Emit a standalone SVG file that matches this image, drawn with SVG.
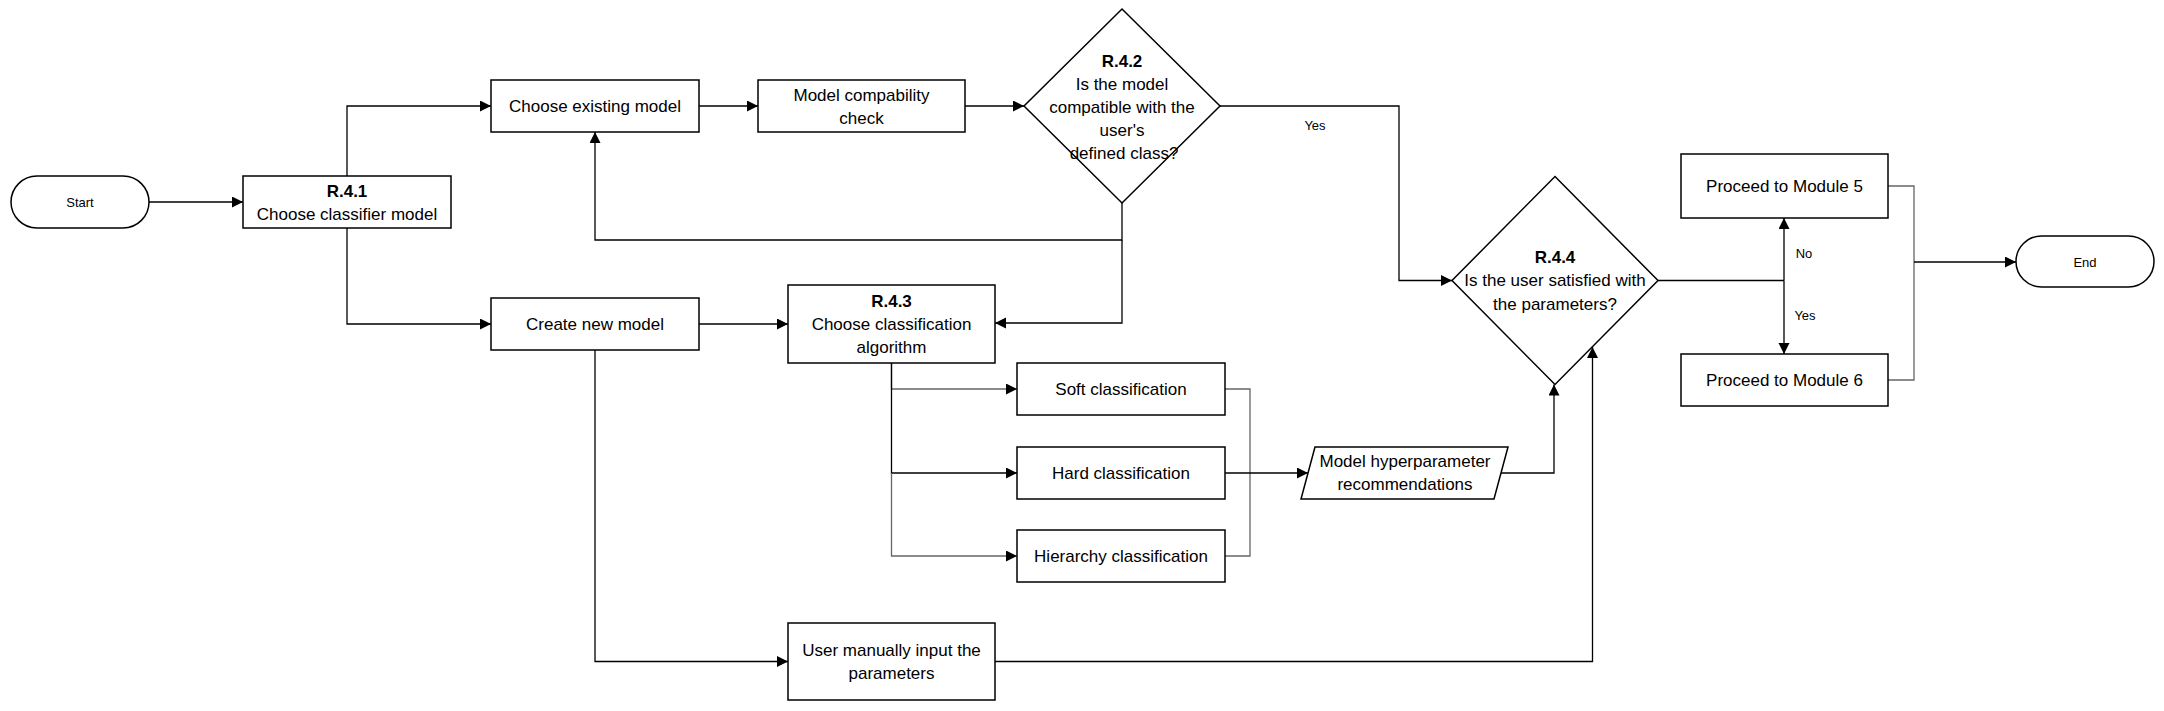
<svg xmlns="http://www.w3.org/2000/svg" width="2164" height="711" viewBox="0 0 2164 711">
<defs>
<marker id="ah" markerUnits="userSpaceOnUse" markerWidth="12" markerHeight="12" refX="11" refY="5.5" orient="auto">
<path d="M0,0 L11,5.5 L0,11 z" fill="#000"/>
</marker>
<marker id="ahs" markerUnits="userSpaceOnUse" markerWidth="12" markerHeight="12" refX="0" refY="5.5" orient="auto">
<path d="M11,0 L0,5.5 L11,11 z" fill="#000"/>
</marker>
<style>
.box{fill:#fff;stroke:#000;stroke-width:1.5}
.t{font-family:"Liberation Sans",Arial,sans-serif;font-size:17px;fill:#000;text-anchor:middle}
.b{font-weight:bold}
.s{font-family:"Liberation Sans",Arial,sans-serif;font-size:13px;fill:#000;text-anchor:middle}
.c{fill:none;stroke:#000;stroke-width:1.3}
.g{fill:none;stroke:#666;stroke-width:1.3}
.a{marker-end:url(#ah)}
</style>
</defs>
<rect width="2164" height="711" fill="#fff"/>
<g id="connectors">
<path class="c a" d="M149,202 H243"/>
<path class="c a" d="M347,176 V106 H491"/>
<path class="c a" d="M347,228 V324 H491"/>
<path class="c a" d="M699,106 H758"/>
<path class="c a" d="M965,106 H1024"/>
<path class="c a" d="M1122,203 V240 H595 V132"/>
<path class="c a" d="M1122,240 V323 H995"/>
<path class="c a" d="M699,324 H788"/>
<path class="c a" d="M595,350 V661.5 H788"/>
<path class="g a" d="M891.5,363 V389 H1017"/>
<path class="c a" d="M891.5,363 V473 H1017"/>
<path class="g a" d="M891.5,473 V556 H1017"/>
<path class="g" d="M1225,389 H1250 V556 H1225"/>
<path class="c a" d="M1225,473 H1308"/>
<path class="c a" d="M1501,473 H1554 V384.5"/>
<path class="c a" d="M995,661.5 H1592.5 V347"/>
<path class="c a" d="M1220,106 H1399 V280.5 H1452"/>
<path class="c" d="M1658,280.5 H1784"/>
<path class="c a" d="M1784,280.5 V218"/>
<path class="c a" d="M1784,280.5 V354"/>
<path class="g" d="M1888,186 H1914 V380 H1888"/>
<path class="c a" d="M1914,262 H2016"/>
<text class="s" x="1315" y="130">Yes</text>
<text class="s" x="1804" y="258">No</text>
<text class="s" x="1805" y="320">Yes</text>
</g>
<g id="start">
<rect class="box" x="11" y="176" width="138" height="52" rx="26"/>
<text class="s" x="80" y="207">Start</text>
</g>
<g id="r41">
<rect class="box" x="243" y="176" width="208" height="52"/>
<text class="t b" x="347" y="196.5">R.4.1</text>
<text class="t" x="347" y="220">Choose classifier model</text>
</g>
<g id="choose-existing">
<rect class="box" x="491" y="80" width="208" height="52"/>
<text class="t" x="595" y="112">Choose existing model</text>
</g>
<g id="compat-check">
<rect class="box" x="758" y="80" width="207" height="52"/>
<text class="t" x="861.5" y="101">Model compability</text>
<text class="t" x="861.5" y="124">check</text>
</g>
<g id="r42">
<polygon class="box" points="1122,9 1220,106 1122,203 1024,106"/>
<text class="t b" x="1122" y="67">R.4.2</text>
<text class="t" x="1122" y="90">Is the model</text>
<text class="t" x="1122" y="113">compatible with the</text>
<text class="t" x="1122" y="136">user's</text>
<text class="t" x="1124" y="159">defined class?</text>
</g>
<g id="create-new">
<rect class="box" x="491" y="298" width="208" height="52"/>
<text class="t" x="595" y="330">Create new model</text>
</g>
<g id="r43">
<rect class="box" x="788" y="285" width="207" height="78"/>
<text class="t b" x="891.5" y="307">R.4.3</text>
<text class="t" x="891.5" y="330">Choose classification</text>
<text class="t" x="891.5" y="353">algorithm</text>
</g>
<g id="soft">
<rect class="box" x="1017" y="363" width="208" height="52"/>
<text class="t" x="1121" y="395">Soft classification</text>
</g>
<g id="hard">
<rect class="box" x="1017" y="447" width="208" height="52"/>
<text class="t" x="1121" y="479">Hard classification</text>
</g>
<g id="hierarchy">
<rect class="box" x="1017" y="530" width="208" height="52"/>
<text class="t" x="1121" y="562">Hierarchy classification</text>
</g>
<g id="hyperparam">
<polygon class="box" points="1315,447 1508,447 1494,499 1301,499"/>
<text class="t" x="1405" y="467">Model hyperparameter</text>
<text class="t" x="1405" y="490">recommendations</text>
</g>
<g id="manual">
<rect class="box" x="788" y="623" width="207" height="77"/>
<text class="t" x="891.5" y="656">User manually input the</text>
<text class="t" x="891.5" y="679">parameters</text>
</g>
<g id="r44">
<polygon class="box" points="1555,176.5 1658,280.5 1555,384.5 1452,280.5"/>
<text class="t b" x="1555" y="263">R.4.4</text>
<text class="t" x="1555" y="286">Is the user satisfied with</text>
<text class="t" x="1555" y="310">the parameters?</text>
</g>
<g id="module5">
<rect class="box" x="1681" y="154" width="207" height="64"/>
<text class="t" x="1784.5" y="192">Proceed to Module 5</text>
</g>
<g id="module6">
<rect class="box" x="1681" y="354" width="207" height="52"/>
<text class="t" x="1784.5" y="386">Proceed to Module 6</text>
</g>
<g id="end">
<rect class="box" x="2016" y="236" width="138" height="51" rx="25.5"/>
<text class="s" x="2085" y="267">End</text>
</g>
</svg>
